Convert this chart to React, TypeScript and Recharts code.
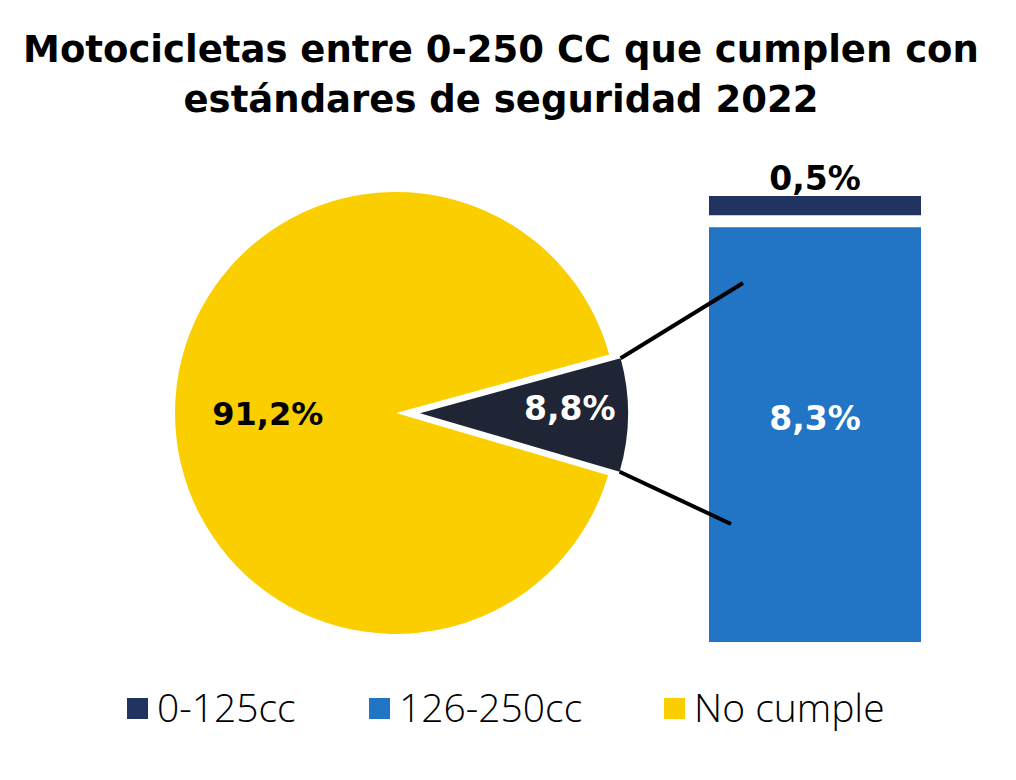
import React from 'react';
import { PieChart, Pie, Cell, BarChart, Bar, XAxis, YAxis, LabelList, Rectangle } from 'recharts';

// ---- data ----
const pieCategories = ['Cumple', 'No cumple'];
const pieValues = [8.8, 91.2];
const barCategories = ['0-125cc', '126-250cc'];
const barValues = [0.5, 8.3];
const legendLabels = ['0-125cc', '126-250cc', 'No cumple'];
const titleLines = ['Motocicletas entre 0-250 CC que cumplen con', 'estándares de seguridad 2022'];

// ---- layout / style ----
const W = 1000;
const H = 764;
const C_BAR0 = '#213361';
const C_BAR1 = '#2274C4';
const C_YELLOW = '#FBCE00';
const C_PIEDARK = '#1F2535';
const FONT_B = 'DejaVu Sans, sans-serif';
const FONT_L = 'Open Sans, sans-serif';

const pieData = pieCategories.map((name, i) => ({ name, value: pieValues[i] }));
const barRow: Record<string, any> = { name: 'Cumple' };
barCategories.forEach((c, i) => (barRow[c] = barValues[i]));
const barData = [barRow];

const fmt = (v: number) => v.toFixed(1).replace('.', ',') + '%';

const rad = Math.PI / 180;
const PIE_CX = 388;
const PIE_CY = 405;
const PIE_R = 221;
const DARK_R = 208;
const EXPLODE = 24;
const totalPie = pieValues.reduce((a, b) => a + b, 0);
const totalBar = barValues.reduce((a, b) => a + b, 0);
const darkSpan = (pieValues[0] / totalPie) * 360;
const MID = -0.5;
const START = MID + darkSpan / 2;
const END = START - darkSpan;
const DARK_CX = PIE_CX + EXPLODE * Math.cos(MID * rad);
const DARK_CY = PIE_CY - EXPLODE * Math.sin(MID * rad);

const BAR_LEFT = 701;
const BAR_TOP = 148;
const BAR_W = 212;
const BAR_MT = 40;
const BAR_H = 446 + BAR_MT;
const GAP = 12;

const labelFor = (idx: number, cx: number, cy: number, r: number, frac: number, color: string, size: number, dy: number) =>
  (p: any) => {
    if (p.index !== idx) return <g />;
    const a = p.midAngle * rad;
    const x = cx + r * frac * Math.cos(a);
    const y = cy - r * frac * Math.sin(a) + dy;
    return (
      <text x={x} y={y} textAnchor="middle" dominantBaseline="central" fill={color}
        fontSize={size} fontWeight={700} fontFamily={FONT_B}>
        {fmt(pieValues[idx])}
      </text>
    );
  };

const BottomShape = (p: any) => (
  <Rectangle x={p.x} y={p.y + GAP / 2} width={p.width} height={Math.max(0, p.height - GAP / 2)} fill={p.fill} />
);
const TopShape = (p: any) => (
  <Rectangle x={p.x} y={p.y} width={p.width} height={Math.max(0, p.height - GAP / 2)} fill={p.fill} />
);

const TopLabel = (p: any) => (
  <text x={p.x + p.width / 2} y={p.y - 6} textAnchor="middle" fill="#000" fontSize={33}
    fontWeight={700} fontFamily={FONT_B}>{fmt(Number(p.value))}</text>
);
const BottomLabel = (p: any) => (
  <text x={p.x + p.width / 2} y={p.y + p.height * 0.468} textAnchor="middle" dominantBaseline="central"
    fill="#fff" fontSize={33} fontWeight={700} fontFamily={FONT_B}>{fmt(Number(p.value))}</text>
);

const legendColors = [C_BAR0, C_BAR1, C_YELLOW];
const legendX = [119, 361, 656];
const legendTextGap = 30;

export default function App() {
  const c1 = { x: DARK_CX + DARK_R * Math.cos(START * rad), y: DARK_CY - DARK_R * Math.sin(START * rad) };
  const c2 = { x: DARK_CX + DARK_R * Math.cos(END * rad), y: DARK_CY - DARK_R * Math.sin(END * rad) };
  const e1 = { x: BAR_LEFT + 34, y: BAR_TOP + BAR_MT + 87 };
  const e2 = { x: BAR_LEFT + 22, y: BAR_TOP + BAR_MT + 328 };

  return (
    <div style={{ position: 'relative', width: W, height: H, background: '#fff' }}>
      <div style={{ position: 'absolute', left: 0, top: 0 }}>
        <PieChart width={W} height={H} margin={{ top: 0, right: 0, bottom: 0, left: 0 }}>
          <Pie data={pieData} dataKey="value" nameKey="name" cx={PIE_CX} cy={PIE_CY} outerRadius={PIE_R}
            startAngle={START} endAngle={START - 360} stroke="none" isAnimationActive={false}
            labelLine={false} label={labelFor(1, PIE_CX, PIE_CY, PIE_R, 0.58, '#000', 32, 2)}>
            <Cell fill="none" />
            <Cell fill={C_YELLOW} />
          </Pie>
          <Pie data={pieData} dataKey="value" nameKey="name" cx={DARK_CX} cy={DARK_CY} outerRadius={DARK_R}
            startAngle={START} endAngle={START - 360} stroke="none" isAnimationActive={false}
            labelLine={false} label={labelFor(0, DARK_CX, DARK_CY, DARK_R, 0.72, '#fff', 33, -6)}>
            <Cell fill={C_PIEDARK} />
            <Cell fill="none" />
          </Pie>
        </PieChart>
      </div>
      <div style={{ position: 'absolute', left: BAR_LEFT, top: BAR_TOP }}>
        <BarChart width={BAR_W} height={BAR_H} data={barData} barCategoryGap={0}
          margin={{ top: BAR_MT, right: 0, bottom: 0, left: 0 }}>
          <XAxis dataKey="name" hide />
          <YAxis hide domain={[0, totalBar]} />
          <Bar dataKey={barCategories[1]} stackId="s" fill={C_BAR1} isAnimationActive={false} shape={BottomShape}>
            <LabelList dataKey={barCategories[1]} content={BottomLabel} />
          </Bar>
          <Bar dataKey={barCategories[0]} stackId="s" fill={C_BAR0} isAnimationActive={false} shape={TopShape}>
            <LabelList dataKey={barCategories[0]} content={TopLabel} />
          </Bar>
        </BarChart>
      </div>
      <svg width={W} height={H} style={{ position: 'absolute', left: 0, top: 0, pointerEvents: 'none' }}>
        <text x={493} y={54} textAnchor="middle" fontFamily={FONT_B} fontWeight={700} fontSize={37} fill="#000">
          {titleLines[0]}
        </text>
        <text x={493} y={104} textAnchor="middle" fontFamily={FONT_B} fontWeight={700} fontSize={37} fill="#000">
          {titleLines[1]}
        </text>
        <line x1={c1.x} y1={c1.y} x2={e1.x} y2={e1.y} stroke="#000" strokeWidth={4} />
        <line x1={c2.x} y1={c2.y} x2={e2.x} y2={e2.y} stroke="#000" strokeWidth={4} />
        {legendLabels.map((l, i) => (
          <g key={l}>
            <rect x={legendX[i]} y={690} width={21} height={21} fill={legendColors[i]} />
            <text x={legendX[i] + legendTextGap} y={714} fontFamily={FONT_L} fontWeight={300} fontSize={39} fill="#000">
              {l}
            </text>
          </g>
        ))}
      </svg>
    </div>
  );
}
